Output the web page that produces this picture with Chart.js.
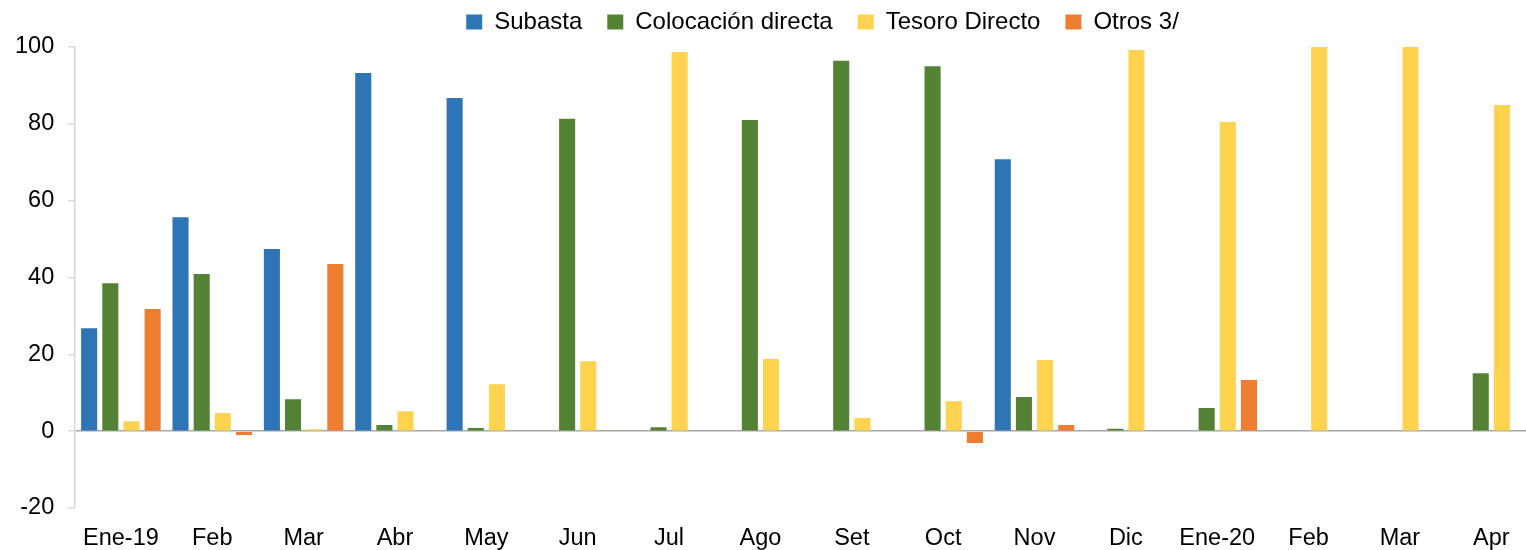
<!DOCTYPE html>
<html>
<head>
<meta charset="utf-8">
<script src="https://cdn.jsdelivr.net/npm/chart.js@4"></script>
<style>
  html, body { margin: 0; padding: 0; background: #fff; }
  #wrap { width: 1526px; height: 550px; }
</style>
</head>
<body>
<div id="wrap"><canvas id="chart" width="1526" height="550"></canvas></div>
<script>
// Meses
const categories = ["Ene-19", "Feb", "Mar", "Abr", "May", "Jun", "Jul", "Ago", "Set", "Oct", "Nov", "Dic", "Ene-20", "Feb", "Mar", "Apr"];

// Series (%)
const subasta = [26.8, 55.7, 47.4, 93.2, 86.7, 0, 0, 0, 0, 0, 70.8, 0, 0, 0, 0, 0];
const colocacionDirecta = [38.5, 40.9, 8.3, 1.6, 0.8, 81.3, 1.0, 81.0, 96.4, 95.0, 8.9, 0.6, 6.0, 0, 0, 15.1];
const tesoroDirecto = [2.6, 4.7, 0.5, 5.2, 12.2, 18.2, 98.7, 18.8, 3.4, 7.8, 18.5, 99.2, 80.5, 100, 100, 84.9];
const otros = [31.8, -1.0, 43.5, 0, 0, 0.1, 0, 0, 0, -3.1, 1.6, 0, 13.3, 0, 0, 0];

const yTicks = [-20, 0, 20, 40, 60, 80, 100];

const font = { family: "'Liberation Sans', Arial, sans-serif", size: 23.5 };
const fontLeyenda = { family: "'Liberation Sans', Arial, sans-serif", size: 24 };

function serie(label, data, color) {
  return {
    label: label,
    data: data,
    backgroundColor: color,
    borderWidth: 0,
    barPercentage: 0.76,
    categoryPercentage: 0.926,
  };
}

// leyenda más baja y algo a la derecha; el eje x sigue un poco fuera del lienzo
const ajustes = {
  id: "ajustes",
  beforeInit(chart) {
    const fitOriginal = chart.legend.fit;
    chart.legend.fit = function () {
      fitOriginal.bind(chart.legend)();
      this.height = 62;
    };
  },
  afterLayout(chart) {
    chart.legend.left += 59;
    chart.legend.right += 59;
    const x = chart.scales.x;
    x.right += 11;
    x.width += 11;
    x.configure();
  },
};

new Chart(document.getElementById("chart"), {
  type: "bar",
  data: {
    labels: categories,
    datasets: [
      serie("Subasta", subasta, "#2E75B6"),
      serie("Colocación directa", colocacionDirecta, "#548235"),
      serie("Tesoro Directo", tesoroDirecto, "#FFD34F"),
      serie("Otros 3/", otros, "#ED7D31"),
    ],
  },
  plugins: [ajustes],
  options: {
    responsive: false,
    animation: false,
    layout: { padding: { left: 1, right: 0, top: -15, bottom: 0 } },
    plugins: {
      legend: {
        position: "top",
        labels: {
          font: fontLeyenda,
          color: "#000",
          boxWidth: 16,
          boxHeight: 15,
          padding: 25,
        },
      },
      tooltip: { enabled: false },
    },
    scales: {
      x: {
        afterFit: (axis) => {
          axis.height = 42;
        },
        grid: { display: false },
        border: { display: false },
        ticks: { font: font, color: "#000", padding: 8, maxRotation: 0 },
      },
      y: {
        min: -20,
        max: 100,
        afterBuildTicks: (axis) => {
          axis.ticks = yTicks.map((v) => ({ value: v }));
        },
        grid: {
          drawOnChartArea: true,
          color: (ctx) => (ctx.tick && ctx.tick.value === 0 ? "#A6A6A6" : "rgba(0,0,0,0)"),
          tickColor: "#D9D9D9",
          tickLength: 7,
          lineWidth: 1.5,
        },
        border: { color: "#D9D9D9", width: 1.5 },
        ticks: { font: font, color: "#000", padding: 14 },
      },
    },
  },
});
</script>
</body>
</html>
